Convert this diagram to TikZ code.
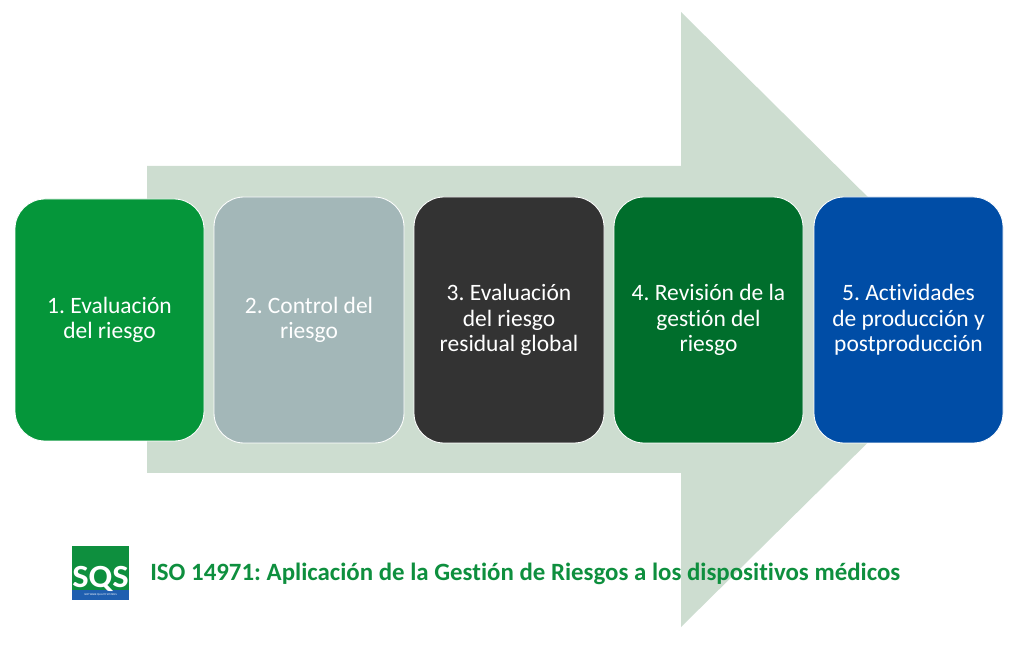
\documentclass[tikz,border=0pt]{standalone}
\usepackage{fontspec}
\setmainfont{Carlito}[Ligatures=CommonOff]
\frenchspacing
\definecolor{arrowgreen}{HTML}{CDDDD0}
\definecolor{titlegreen}{HTML}{0E8F3E}
\definecolor{stepone}{HTML}{05963A}
\definecolor{steptwo}{HTML}{A3B7B8}
\definecolor{stepthree}{HTML}{333333}
\definecolor{stepfour}{HTML}{006E2C}
\definecolor{stepfive}{HTML}{004DA6}
\definecolor{logoblue}{HTML}{1F5FB0}
\tikzset{
  stagebox/.style={shape=rectangle,draw=white,line width=0.6pt,rounded corners=0.75cm,
    minimum width=4.75cm,minimum height=6.15cm,align=center,text=white,
    font=\fontsize{16.7}{18.1}\selectfont},
}
\begin{document}
\begin{tikzpicture}
\useasboundingbox (0,0) rectangle (25.525,16.25);
\fill[arrowgreen] (3.675,12.1) -- (17.025,12.1) -- (17.025,15.95) -- (24.8,8.25)
  -- (17.025,0.575) -- (17.025,4.425) -- (3.675,4.425) -- cycle;
\node[stagebox,fill=stepone,minimum width=4.725cm,minimum height=6.05cm] (A) at (2.7375,8.25) {1. Evaluación\\del riesgo};
\node[stagebox,fill=steptwo] (B) at (7.725,8.25) {2. Control del\\riesgo};
\node[stagebox,fill=stepthree] (C) at (12.725,8.25) {3. Evaluación\\del riesgo\\residual global};
\node[stagebox,fill=stepfour,minimum width=4.725cm] (D) at (17.7125,8.25) {4. Revisión de la\\gestión del\\riesgo};
\node[stagebox,fill=stepfive,minimum width=4.725cm] (E) at (22.7125,8.25) {5. Actividades\\de producción y\\postproducción};
\node[shape=rectangle,fill=titlegreen,minimum width=1.425cm,minimum height=1.1cm,inner sep=0pt] (L) at (2.5125,2.05) {};
\node[shape=rectangle,fill=logoblue,minimum width=1.425cm,minimum height=0.24cm,inner sep=0pt,
  text=white,font=\fontsize{1.9}{2}\selectfont] (M) at (2.5125,1.375) {SOFTWARE QUALITY SYSTEMS};
\node[text=white,font=\fontsize{23}{23}\selectfont\bfseries,inner sep=0pt,xscale=1.07] (S) at (2.5125,1.7875) {SQS};
\node[anchor=west,inner sep=0pt,text=titlegreen,font=\fontsize{17.7}{19}\selectfont\bfseries] (T) at (3.75,1.9) {ISO 14971: Aplicación de la Gestión de Riesgos a los dispositivos médicos};
\end{tikzpicture}
\end{document}
